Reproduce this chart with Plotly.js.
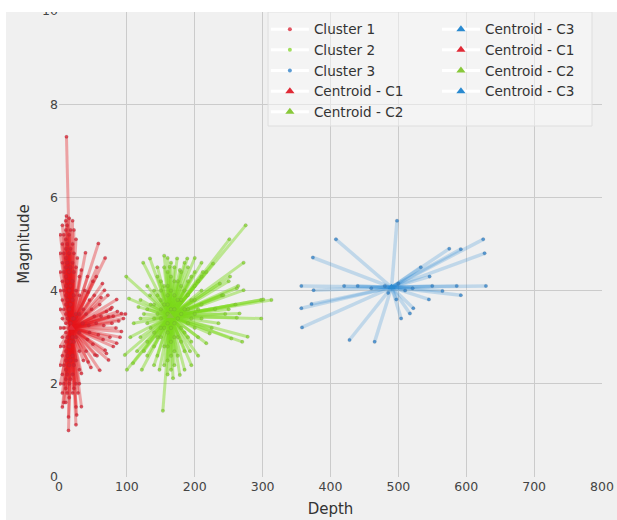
<!DOCTYPE html>
<html>
<head>
<meta charset="utf-8">
<script src="https://cdn.plot.ly/plotly-3.0.1.min.js"></script>
<style>
  html, body { margin:0; padding:0; background:#ffffff; width:617px; height:520px; overflow:hidden; }
  #wrap { position:absolute; left:6px; top:12px; width:611px; height:508px; overflow:hidden; background:#f0f0f0; }
  #chart { position:absolute; left:0; top:-12px; width:611px; height:520px; }
</style>
</head>
<body>
<div id="wrap"><div id="chart"></div></div>
<script>
// ---- Cluster 1 (shallow) ----
const c1Depth = [
  14,14,10,10,10,10,10,10,10,10,10,10,10,10,10,10,10,10,10,10,10,10,
  11,11,
  5,5,5,5,5,5,5,5,5,5,5,
  2,2,2,2,2,2,2,2,2,
  15,15,15,15,15,15,15,15,15,15,15,
  20,20,20,20,20,20,20,20,20,20,
  25,26,25,25,25,25,25,25,25,25,
  30,30,30,30,30,30,
  7,7,7,7,7,7,7,7,7,7,
  12,12,12,12,12,12,12,12,12,12,
  17,17,17,17,17,17,17,17,17,
  22,22,22,22,22,22,22,22,
  58,68,39,56,27,33,67,85,52,78,92,73,43,78,92,85,73,60,43,33,68,53,33,
  40,48,55,62,70,80,88,45,58,65,75,50,40,60,45,38,50,35,42,95,84,62,72,56,47,
  36,44,52,66,76,86,98,90,80,70,55,64,42,36,30,28
];
const c1Mag = [
  1.0,1.29,1.6,1.9,2.1,2.3,2.5,2.7,2.9,3.1,3.3,3.5,3.7,3.9,4.1,4.3,4.5,4.7,4.9,5.1,5.3,5.5,
  7.3,5.6,
  1.5,1.8,2.2,2.6,3.0,3.4,3.8,4.2,4.6,5.0,5.4,
  2.0,2.4,2.8,3.2,3.6,4.0,4.4,4.8,5.2,
  1.7,2.0,2.4,2.8,3.2,3.6,4.0,4.4,4.8,5.2,5.55,
  1.8,2.2,2.6,3.0,3.4,3.8,4.2,4.6,5.0,5.5,
  1.12,1.33,1.5,2.0,2.5,3.0,3.5,4.0,4.5,5.1,
  2.3,2.7,3.1,3.5,3.9,4.3,
  1.6,2.0,2.4,2.8,3.2,3.6,4.0,4.4,4.8,5.2,
  1.8,2.2,2.6,3.0,3.4,3.8,4.2,4.6,5.0,5.4,
  2.1,2.5,2.9,3.3,3.7,4.1,4.5,4.9,5.3,
  1.9,2.4,2.9,3.4,3.9,4.4,4.8,5.3,
  5.01,4.70,4.81,4.50,4.70,4.44,4.01,3.81,3.90,3.64,3.51,3.44,3.97,3.30,3.12,2.87,2.51,2.29,2.47,2.22,2.72,2.62,1.51,
  3.5,3.6,3.3,3.45,3.55,3.45,3.35,3.1,3.05,2.95,3.0,2.85,2.7,3.7,3.8,4.0,4.2,3.3,2.95,3.4,3.2,3.85,3.9,2.6,2.35,
  3.6,3.25,3.45,3.25,3.6,3.55,3.5,3.0,2.8,2.65,4.3,4.15,4.3,2.5,2.0,1.8
];
// ---- Cluster 2 (intermediate) ----
const c2Depth = [
  150,150,150,150,150,150,150,
  160,160,160,160,160,160,160,160,160,160,160,
  165,165,165,165,165,165,165,165,
  170,170,170,170,170,170,170,170,
  175,175,175,175,175,
  180,180,180,180,180,180,
  190,190,190,190,190,190,
  200,200,200,200,200,
  140,140,140,140,140,
  130,130,130,130,
  120,120,120,
  210,210,210,210,
  145,145,145,145,145,
  155,155,155,155,155,155,
  185,185,185,185,185,
  195,195,195,195,
  205,205,205,
  135,135,125,125,
  275,251,272,134,124,174,189,99,313,298,298,278,270,153,100,109,122,148,168,178,97,222,254,217,103,
  252,237,262,272,227,217,163,178,134,117,105,110,115,230,245,260,240,205,195,185,130,140,225,235,250,
  200,210,155,145,193,212,250,264,301,262,266,242
];
const c2Mag = [
  3.0,3.2,3.4,3.6,3.8,4.0,4.2,
  2.2,2.5,2.8,3.1,3.3,3.5,3.7,3.9,4.1,4.4,4.7,
  2.3,2.6,2.9,3.2,3.6,4.0,4.3,4.6,
  2.4,2.7,3.0,3.3,3.6,3.9,4.2,4.5,
  2.6,3.0,3.4,3.8,4.2,
  2.9,3.2,3.5,3.8,4.1,4.4,
  3.0,3.3,3.6,3.9,4.2,4.5,
  3.2,3.5,3.8,4.1,4.4,
  2.8,3.1,3.4,3.7,4.0,
  2.9,3.3,3.6,4.1,
  3.0,3.4,3.8,
  3.4,3.7,4.0,4.3,
  2.6,3.0,3.5,3.9,4.3,
  2.4,2.8,3.2,3.7,4.1,4.5,
  2.7,3.1,3.6,4.0,4.6,
  2.9,3.4,3.8,4.3,
  3.0,3.6,4.2,
  3.2,3.7,2.7,3.5,
  5.40,5.10,4.60,4.69,4.60,4.69,4.69,4.30,3.80,3.80,3.40,3.01,2.90,1.42,2.30,2.44,2.30,2.30,2.12,2.19,2.62,3.08,2.97,2.87,3.83,
  4.30,4.15,4.05,4.01,4.58,4.40,4.51,4.44,3.90,3.65,3.0,3.3,2.7,3.6,3.5,3.7,3.9,2.6,2.4,2.3,2.6,2.4,3.2,3.3,3.6,
  4.7,4.6,4.75,4.5,2.7,4.4,4.2,4.1,3.81,3.42,3.51,3.9
];
// ---- Cluster 3 (deep) ----
const c3Depth = [498,625,627,592,575,533,546,521,629,586,550,565,592,545,522,517,504,497,465,420,374,408,357,375,357,372,358,428,440,460,480,500,510,485];
const c3Mag   = [5.50,5.10,4.80,4.89,4.90,4.50,4.30,4.05,4.10,4.10,4.10,3.99,3.90,3.81,3.62,3.51,3.40,3.81,2.90,4.10,4.71,5.10,4.10,4.01,3.62,3.71,3.21,2.94,4.10,4.05,4.10,4.15,4.00,3.95];
// ---- Centroids ----
const centroidDepth = [18, 164, 490];
const centroidMag   = [3.2, 3.45, 4.07];
const legendCol1 = ['Cluster 1','Cluster 2','Cluster 3','Centroid - C1','Centroid - C2'];
const legendCol2 = ['Centroid - C3','Centroid - C1','Centroid - C2','Centroid - C3'];
const xTicks = [0,100,200,300,400,500,600,700,800];
const yTicks = [0,2,4,6,8,10];

const lineCol = ['rgba(230,22,28,0.36)','rgba(124,218,26,0.45)','rgba(40,140,215,0.24)'];
const ptCol   = ['rgba(215,30,45,0.75)','rgba(130,210,40,0.75)','rgba(50,130,200,0.8)'];
const triCol  = ['#e02a36','#88c83a','#2a8ad0'];

const traces = [];
function segs(xs, ys, k, w) {
  for (let i = 0; i < xs.length; i++) {
    traces.push({type:'scatter', mode:'lines', x:[xs[i], centroidDepth[k]], y:[ys[i], centroidMag[k]],
      line:{color:lineCol[k], width:w}, hoverinfo:'skip', showlegend:false});
  }
}
segs(c1Depth, c1Mag, 0, 3);
segs(c2Depth, c2Mag, 1, 3);
segs(c3Depth, c3Mag, 2, 3.5);
[[c1Depth,c1Mag],[c2Depth,c2Mag],[c3Depth,c3Mag]].forEach((d,k)=>{
  traces.push({type:'scatter', mode:'markers', x:d[0], y:d[1], showlegend:false,
    marker:{size:3.5, color:ptCol[k], line:{color:'rgba(90,90,90,0.25)', width:0.5}}});
});
traces.push({type:'scatter', mode:'markers', x:centroidDepth, y:centroidMag, showlegend:false,
  marker:{symbol:'triangle-up', size:7, color:triCol}});

// legend entries
const legSpec1 = [['circle',4,ptCol[0]],['circle',4,ptCol[1]],['circle',4,ptCol[2]],['triangle-up',8,triCol[0]],['triangle-up',8,triCol[1]]];
const legSpec2 = [['triangle-up',8,triCol[2]],['triangle-up',8,triCol[0]],['triangle-up',8,triCol[1]],['triangle-up',8,triCol[2]]];
legendCol1.forEach((name,i)=>{
  traces.push({type:'scatter', mode:'lines+markers', name:name, x:[null], y:[null], legend:'legend',
    line:{color:'#ffffff', width:3}, marker:{symbol:legSpec1[i][0], size:legSpec1[i][1], color:legSpec1[i][2]}});
});
legendCol2.forEach((name,i)=>{
  traces.push({type:'scatter', mode:'lines+markers', name:name, x:[null], y:[null], legend:'legend2',
    line:{color:'#ffffff', width:3}, marker:{symbol:legSpec2[i][0], size:legSpec2[i][1], color:legSpec2[i][2]}});
});

const fontFam = 'DejaVu Sans, sans-serif';
const legBase = {xanchor:'left', yanchor:'top', bgcolor:'rgba(0,0,0,0)', borderwidth:0, itemwidth:38,
  font:{family:fontFam, size:13.6, color:'#333333'}, tracegroupgap:0, traceorder:'normal'};

const layout = {
  width:611, height:520,
  margin:{l:53, r:15, t:11, b:43},
  paper_bgcolor:'#f0f0f0', plot_bgcolor:'#f0f0f0',
  font:{family:fontFam, color:'#444444'},
  xaxis:{range:[0,800], tickvals:xTicks, ticktext:xTicks.map(String), showgrid:true, gridcolor:'#cbcbcb', gridwidth:1,
    zeroline:false, showline:false, ticks:'', tickfont:{size:12.5, color:'#444444'},
    title:{text:'Depth', font:{size:15, color:'#333333'}, standoff:10}, automargin:false, fixedrange:true},
  yaxis:{range:[0,10], tickvals:yTicks, ticktext:yTicks.map(String), showgrid:true, gridcolor:'#cbcbcb', gridwidth:1,
    zeroline:false, showline:false, ticks:'', tickfont:{size:12.5, color:'#444444'},
    title:{text:'Magnitude', font:{size:15, color:'#333333'}, standoff:8}, automargin:false, fixedrange:true},
  showlegend:true,
  legend:Object.assign({x:0.381, y:0.994}, legBase),
  legend2:Object.assign({x:0.696, y:0.994}, legBase),
  shapes:[{type:'rect', xref:'paper', yref:'paper', x0:0.385, x1:0.9816, y0:0.7532, y1:0.998,
    fillcolor:'rgba(248,248,248,0.55)', line:{color:'#dedede', width:1}, layer:'above'}]
};
Plotly.newPlot('chart', traces, layout, {displayModeBar:false, staticPlot:true});
</script>
</body>
</html>
